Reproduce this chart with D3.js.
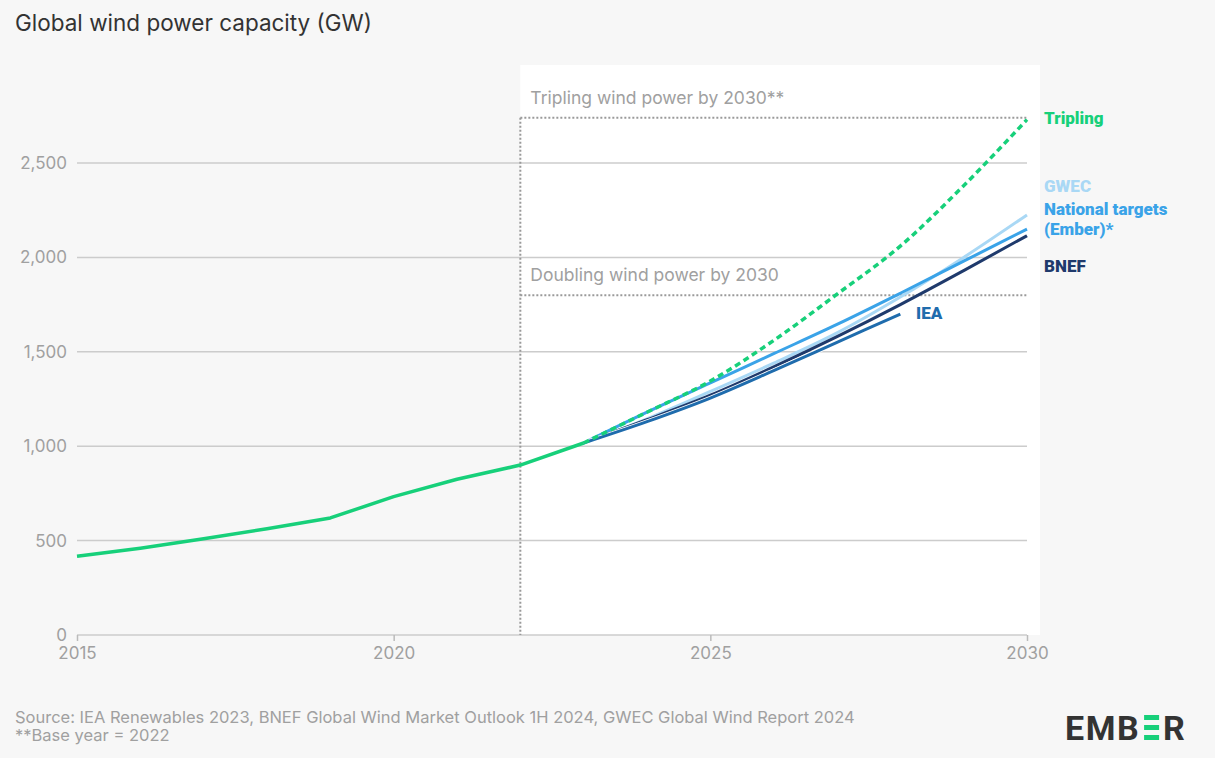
<!DOCTYPE html>
<html><head><meta charset="utf-8">
<script src="https://cdn.jsdelivr.net/npm/d3@7"></script>
<style>
html,body{margin:0;padding:0;background:#f7f7f7;}
svg{display:block;}
</style></head>
<body>
<svg id="chart" width="1215" height="758"></svg>
<script>
const years = [2015,2016,2017,2018,2019,2020,2021,2022,2023];
const historical = [417,460,510,563,620,733,825,900,1017];
const projYears = [2023,2024,2025,2026,2027,2028,2029,2030];
const tripling = [1017,1180,1345,1560,1805,2060,2380,2730];
const gwec = [1017,1145,1290,1440,1600,1790,2000,2225];
const nationalTargets = [1017,1180,1335,1490,1645,1810,1980,2150];
const bnef = [1017,1140,1270,1420,1580,1750,1930,2115];
const ieaYears = [2023,2024,2025,2026,2027,2028];
const iea = [1017,1130,1255,1400,1550,1700];
const yTicks = [0,500,1000,1500,2000,2500];
const xTicks = [2015,2020,2025,2030];
const doublingTarget = 1800;
const triplingTarget = 2740;
const baseYear = 2022;

const svg = d3.select("#chart");
const x = d3.scaleLinear().domain([2015,2030]).range([77,1027]);
const y = d3.scaleLinear().domain([0,2500]).range([635,163]);

const green = "#17d07a", cNT = "#3aa3e8", cGW = "#a9d8f5", cBN = "#1f3a6c", cIEA = "#1f6cad";
const FONT = "Inter, sans-serif";

// Title
svg.append("text").attr("x",15).attr("y",31).attr("font-family",FONT)
  .attr("font-size",22.5).attr("fill","#333").text("Global wind power capacity (GW)");

// white projection area
svg.append("rect").attr("x",x(baseYear)).attr("y",65).attr("width",1040-x(baseYear))
  .attr("height",y(0)-65).attr("fill","#fff");

// gridlines
svg.append("g").selectAll("line").data(yTicks).join("line")
  .attr("x1",x(2015)).attr("x2",x(2030)).attr("y1",d=>y(d)).attr("y2",d=>y(d))
  .attr("stroke","#cccccc").attr("stroke-width",1.5);

// y tick labels
svg.append("g").selectAll("text").data(yTicks).join("text")
  .attr("x",67).attr("y",d=>y(d)).attr("dy","0.35em").attr("text-anchor","end")
  .attr("font-family",FONT).attr("font-size",17).attr("fill","#a0a0a0")
  .text(d=>d3.format(",")(d));

// x axis
const xAxis = d3.axisBottom(x).tickValues(xTicks).tickFormat(d3.format("d")).tickSize(6).tickPadding(6);
const gx = svg.append("g").attr("transform",`translate(0,${y(0)})`).call(xAxis);
gx.select(".domain").remove();
gx.selectAll("line").attr("stroke","#bbb").attr("stroke-width",1.5);
gx.selectAll("text").attr("font-family",FONT).attr("font-size",17).attr("fill","#a0a0a0");

// dotted reference lines
const dot = {stroke:"#9a9a9a", w:2, dash:"2,2"};
svg.append("line").attr("x1",x(baseYear)).attr("x2",x(baseYear)).attr("y1",y(triplingTarget)).attr("y2",y(0))
  .attr("stroke",dot.stroke).attr("stroke-width",dot.w).attr("stroke-dasharray",dot.dash);
[triplingTarget, doublingTarget].forEach(v=>{
  svg.append("line").attr("x1",x(baseYear)).attr("x2",x(2030)).attr("y1",y(v)).attr("y2",y(v))
    .attr("stroke",dot.stroke).attr("stroke-width",dot.w).attr("stroke-dasharray",dot.dash);
});
svg.append("text").attr("x",x(baseYear)+10).attr("y",y(triplingTarget)-14)
  .attr("font-family",FONT).attr("font-size",17.5).attr("fill","#a0a0a0").text("Tripling wind power by 2030**");
svg.append("text").attr("x",x(baseYear)+10).attr("y",y(doublingTarget)-14)
  .attr("font-family",FONT).attr("font-size",17.5).attr("fill","#a0a0a0").text("Doubling wind power by 2030");

// lines
const line = d3.line().x(d=>x(d[0])).y(d=>y(d[1]));
const smooth = d3.line().x(d=>x(d[0])).y(d=>y(d[1])).curve(d3.curveMonotoneX);
function draw(ys, vs, color, w, dash, gen){
  const p = svg.append("path").datum(ys.map((yr,i)=>[yr,vs[i]])).attr("d",(gen||line))
    .attr("fill","none").attr("stroke",color).attr("stroke-width",w)
    .attr("stroke-linejoin","round");
  if(dash) p.attr("stroke-dasharray",dash);
  return p;
}
draw(projYears, gwec, cGW, 3, null, smooth);
draw(projYears, nationalTargets, cNT, 3, null, smooth);
draw(projYears, bnef, cBN, 3, null, smooth);
draw(ieaYears, iea, "#fff", 4.5, null, smooth);
draw(ieaYears, iea, cIEA, 3, null, smooth);
draw(projYears, tripling, green, 3.5, "6,4", smooth);
draw(years, historical, green, 3.5);

// right labels
const lab = (tx,ty,txt,col)=>svg.append("text").attr("x",tx).attr("y",ty).attr("dy","0.35em")
  .attr("font-family","Roboto, sans-serif").attr("font-weight",900).attr("font-size",17)
  .attr("fill",col).text(txt);
lab(1044,118,"Tripling",green);
lab(1044,186,"GWEC",cGW);
lab(1044,209.5,"National targets",cNT);
lab(1044,229.5,"(Ember)*",cNT);
lab(1044,266,"BNEF",cBN);
lab(916,313,"IEA",cIEA);

// footnotes
const foot = (ty,txt)=>svg.append("text").attr("x",15).attr("y",ty)
  .attr("font-family",FONT).attr("font-size",16.5).attr("fill","#a0a0a0").text(txt);
foot(723,"Source: IEA Renewables 2023, BNEF Global Wind Market Outlook 1H 2024, GWEC Global Wind Report 2024");
foot(741,"**Base year = 2022");

// logo
const lg = svg.append("g");
const t1 = lg.append("text").attr("x",1065).attr("y",740).attr("font-family","Roboto, sans-serif")
  .attr("font-weight",700).attr("font-size",34).attr("fill","#333").attr("letter-spacing",1.5).text("EMB");
const w1 = t1.node().getComputedTextLength();
const bx = 1065 + w1 + 4;
[715,725,735].forEach(by=>lg.append("rect").attr("x",bx).attr("y",by).attr("width",15).attr("height",5).attr("fill",green));
lg.append("text").attr("x",bx+19).attr("y",740).attr("font-family","Roboto, sans-serif")
  .attr("font-weight",700).attr("font-size",34).attr("fill","#333").text("R");
</script>
</body></html>
